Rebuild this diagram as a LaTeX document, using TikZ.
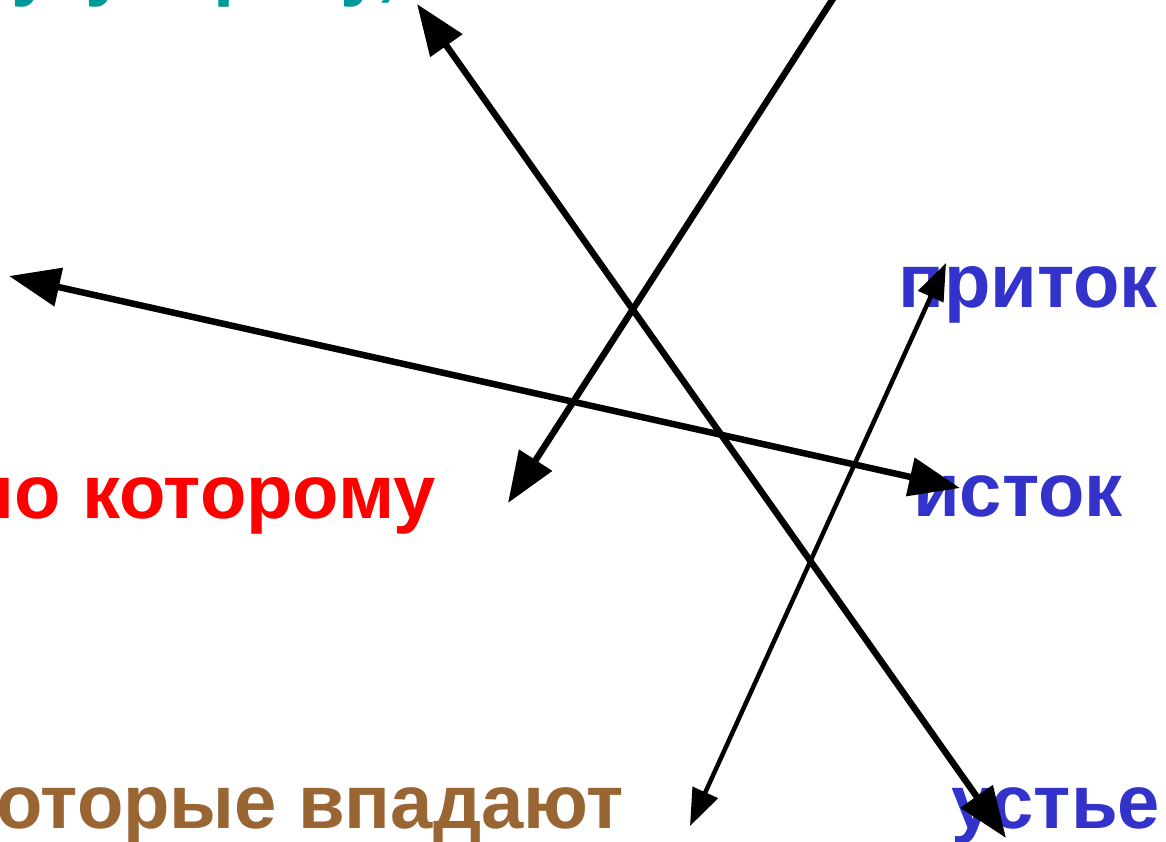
\documentclass[tikz,border=0pt]{standalone}
\usepackage{fontspec}
\setmainfont{Liberation Sans}
\usetikzlibrary{arrows.meta}
\definecolor{tealc}{HTML}{009999}
\definecolor{redc}{HTML}{FF0000}
\definecolor{bluec}{HTML}{3333CC}
\definecolor{brownc}{HTML}{996633}
\tikzset{
  lbl/.style={inner sep=0pt, font=\fontsize{76}{80}\selectfont\bfseries},
  thickarrow/.style={line width=6.5pt, {Triangle[length=51pt,width=38pt]}-{Triangle[length=51pt,width=38pt]}},
  thickone/.style={line width=6.5pt, -{Triangle[length=51pt,width=38pt]}},
  thinarrow/.style={line width=4.5pt, {Triangle[length=37pt,width=27pt]}-{Triangle[length=37pt,width=27pt]}}
}
\begin{document}
\begin{tikzpicture}[x=1pt,y=-1pt]
\useasboundingbox (0,0) rectangle (1166,841);
\clip (0,0) rectangle (1166,841);
\fill[white] (0,0) rectangle (1166,841);
% texts
\node[lbl, text=tealc, anchor=base east] (top) at (398,-9) {место впадения реки в другую реку,};
\node[lbl, text=redc, anchor=base east] (pokot) at (436,518) {по которому};
\node[lbl, text=brownc, anchor=base east] (kotv) at (624,828) {которые впадают};
\node[lbl, text=bluec, anchor=base west] (istok) at (913,516) {исток};
\node[lbl, text=bluec, anchor=base west] (pritok) at (898,307) {приток};
\node[lbl, text=bluec, anchor=base west] (uste) at (951,828) {устье};
% arrow end points
\coordinate (a1s) at (417,4);
\coordinate (a1e) at (1006,838);
\coordinate (a2s) at (845,-20);
\coordinate (a2e) at (508,503);
\coordinate (a3s) at (9,276);
\coordinate (a3e) at (960,488);
\coordinate (a4s) at (946,263);
\coordinate (a4e) at (690,826);
% arrows
\draw[thickarrow] (a1s) -- (a1e);
\draw[thickone] (a2s) -- (a2e);
\draw[thickarrow] (a3s) -- (a3e);
\draw[thinarrow] (a4s) -- (a4e);
\end{tikzpicture}
\end{document}
